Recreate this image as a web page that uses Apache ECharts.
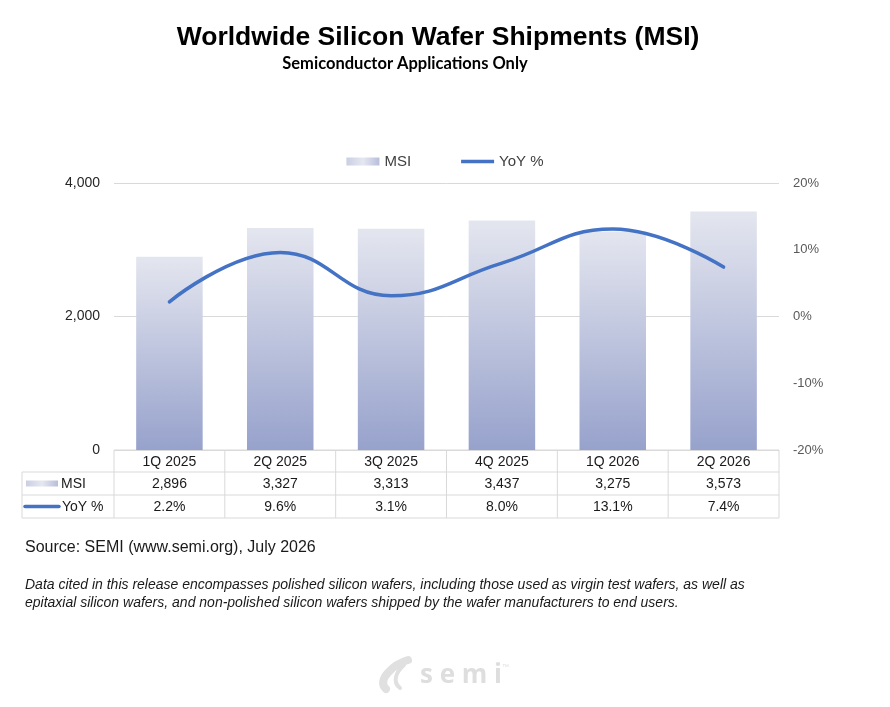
<!DOCTYPE html>
<html>
<head>
<meta charset="utf-8">
<script src="https://cdn.jsdelivr.net/npm/echarts@6/dist/echarts.min.js"></script>
<style>
  html, body { margin: 0; padding: 0; background: #fff; }
  #chart { width: 890px; height: 707px; }
</style>
</head>
<body>
<div id="chart"></div>
<script>
const categories = ['1Q 2025', '2Q 2025', '3Q 2025', '4Q 2025', '1Q 2026', '2Q 2026']
const msiValues = [2896, 3327, 3313, 3437, 3275, 3573]
const yoyValues = [2.2, 9.6, 3.1, 8.0, 13.1, 7.4]
const msiTicks = [0, 2000, 4000]
const yoyTicks = [-20, -10, 0, 10, 20]

const chart = echarts.init(document.getElementById('chart'), null, { renderer: 'canvas' })

// plot box (the table sits right under it)
const plotLeft = 114, plotRight = 779, plotTop = 183, plotBottom = 450
const rowH = [22, 23, 23]
const colW = (plotRight - plotLeft) / categories.length
const lineColor = '#D9D9D9'
const barGradient = new echarts.graphic.LinearGradient(0, 0, 0, 1, [
  { offset: 0, color: '#E4E6EF' },
  { offset: 1, color: '#97A2CC' }
])
const keyGradient = new echarts.graphic.LinearGradient(0, 0, 1, 0, [
  { offset: 0, color: '#C9CEE3' },
  { offset: 0.5, color: '#E6E8F0' },
  { offset: 1, color: '#B7BEDB' }
])

function tableGraphics() {
  const els = []
  const y0 = plotBottom
  const y1 = y0 + rowH[0]
  const y2 = y1 + rowH[1]
  const y3 = y2 + rowH[2]
  const border = { stroke: lineColor, lineWidth: 1 }
  // horizontal lines
  els.push({ type: 'line', shape: { x1: plotLeft, y1: y0, x2: plotRight, y2: y0 }, style: border })
  ;[y1, y2, y3].forEach(y => {
    els.push({ type: 'line', shape: { x1: 22, y1: y, x2: plotRight, y2: y }, style: border })
  })
  // vertical lines
  els.push({ type: 'line', shape: { x1: 22, y1: y1, x2: 22, y2: y3 }, style: border })
  for (let i = 0; i <= categories.length; i++) {
    const x = plotLeft + i * colW
    els.push({ type: 'line', shape: { x1: x, y1: y0, x2: x, y2: y3 }, style: border })
  }
  const cellText = (txt, cx, cy) => ({
    type: 'text', x: cx, y: cy,
    style: { text: txt, align: 'center', verticalAlign: 'middle', font: '14px Arial, "Liberation Sans"', fill: '#1a1a1a' }
  })
  categories.forEach((c, i) => {
    const cx = plotLeft + (i + 0.5) * colW
    els.push(cellText(c, cx, y0 + rowH[0] / 2 + 1))
    els.push(cellText(msiValues[i].toLocaleString('en-US'), cx, y1 + rowH[1] / 2 + 1))
    els.push(cellText(yoyValues[i].toFixed(1) + '%', cx, y2 + rowH[2] / 2 + 1))
  })
  // row headers with legend keys
  els.push({ type: 'rect', shape: { x: 26, y: (y1 + y2) / 2 - 3, width: 32, height: 6 }, style: { fill: keyGradient } })
  els.push({ type: 'text', x: 61, y: (y1 + y2) / 2 + 1, style: { text: 'MSI', verticalAlign: 'middle', font: '14px Arial, "Liberation Sans"', fill: '#1a1a1a' } })
  els.push({ type: 'line', shape: { x1: 25, y1: (y2 + y3) / 2, x2: 59, y2: (y2 + y3) / 2 }, style: { stroke: '#4472C4', lineWidth: 3.5, lineCap: 'round' } })
  els.push({ type: 'text', x: 62, y: (y2 + y3) / 2 + 1, style: { text: 'YoY %', verticalAlign: 'middle', font: '14px Arial, "Liberation Sans"', fill: '#1a1a1a' } })
  return els
}

function headerGraphics() {
  return [
    { type: 'text', x: 438, y: 38, style: { text: 'Worldwide Silicon Wafer Shipments (MSI)', align: 'center', verticalAlign: 'middle', font: 'bold 26.5px Arial, "Liberation Sans"', fill: '#000' } },
    { type: 'text', x: 405, y: 64, style: { text: 'Semiconductor Applications Only', align: 'center', verticalAlign: 'middle', font: 'bold 16.5px Lato, "Open Sans"', fill: '#000' } }
  ]
}

function footerGraphics() {
  return [
    { type: 'text', x: 25, y: 548, style: { text: 'Source: SEMI (www.semi.org), July 2026', verticalAlign: 'middle', font: '16px Arial, "Liberation Sans"', fill: '#1a1a1a' } },
    { type: 'text', x: 25, y: 585, style: { text: 'Data cited in this release encompasses polished silicon wafers, including those used as virgin test wafers, as well as', verticalAlign: 'middle', font: 'italic 14px Arial, "Liberation Sans"', fill: '#1a1a1a' } },
    { type: 'text', x: 25, y: 603, style: { text: 'epitaxial silicon wafers, and non-polished silicon wafers shipped by the wafer manufacturers to end users.', verticalAlign: 'middle', font: 'italic 14px Arial, "Liberation Sans"', fill: '#1a1a1a' } },
    // semi logo (pale)
    { type: 'bezierCurve', shape: { x1: 408, y1: 660, cpx1: 394, cpy1: 664, cpx2: 376, cpy2: 680, x2: 386, y2: 689 }, style: { stroke: '#E0E0E0', lineWidth: 8, lineCap: 'round', fill: null } },
    { type: 'bezierCurve', shape: { x1: 404, y1: 665, cpx1: 396, cpy1: 672, cpx2: 392, cpy2: 682, x2: 400, y2: 688 }, style: { stroke: '#E0E0E0', lineWidth: 4, lineCap: 'round', fill: null } },
    { type: 'text', x: 420, y: 676, style: { text: 's e m i', verticalAlign: 'middle', font: 'bold 26px "Open Sans", Arial', fill: '#DEDEDE' } },
    { type: 'text', x: 502, y: 667, style: { text: '\u2122', verticalAlign: 'middle', font: '7px Arial', fill: '#DEDEDE' } }
  ]
}

const option = {
  backgroundColor: '#fff',
  animation: false,
  legend: {
    top: 149,
    left: 'center',
    itemGap: 50,
    itemWidth: 33,
    itemHeight: 8,
    textStyle: { fontFamily: 'Arial, "Liberation Sans"', fontSize: 15, color: '#404040' },
    data: [
      { name: 'MSI', icon: 'rect', itemStyle: { color: keyGradient } },
      { name: 'YoY %', icon: 'path://M0,0 L34,0 L34,3.6 L0,3.6 Z', itemStyle: { color: '#4472C4' } }
    ]
  },
  grid: {
    left: plotLeft,
    right: 890 - plotRight,
    top: plotTop,
    bottom: 707 - plotBottom,
    containLabel: false
  },
  xAxis: {
    type: 'category',
    data: categories,
    axisLine: { show: false },
    axisTick: { show: false },
    axisLabel: { show: false }
  },
  yAxis: [
    {
      type: 'value',
      min: msiTicks[0],
      max: msiTicks[msiTicks.length - 1],
      interval: 2000,
      axisLine: { show: false },
      axisTick: { show: false },
      splitLine: { lineStyle: { color: lineColor, width: 1 } },
      axisLabel: {
        margin: 14,
        fontFamily: 'Arial, "Liberation Sans"',
        fontSize: 14,
        color: '#262626',
        formatter: v => v.toLocaleString('en-US')
      }
    },
    {
      type: 'value',
      min: yoyTicks[0],
      max: yoyTicks[yoyTicks.length - 1],
      interval: 10,
      axisLine: { show: false },
      axisTick: { show: false },
      splitLine: { show: false },
      axisLabel: {
        margin: 14,
        fontFamily: 'Arial, "Liberation Sans"',
        fontSize: 13,
        color: '#595959',
        formatter: '{value}%'
      }
    }
  ],
  series: [
    {
      name: 'MSI',
      type: 'bar',
      data: msiValues,
      barWidth: '60%',
      itemStyle: { color: barGradient }
    },
    {
      name: 'YoY %',
      type: 'line',
      yAxisIndex: 1,
      data: yoyValues,
      smooth: 0.45,
      symbol: 'none',
      lineStyle: { color: '#4472C4', width: 3.5, cap: 'round' },
      itemStyle: { color: '#4472C4' }
    }
  ],
  graphic: headerGraphics().concat(tableGraphics(), footerGraphics())
}

chart.setOption(option)
</script>
</body>
</html>
